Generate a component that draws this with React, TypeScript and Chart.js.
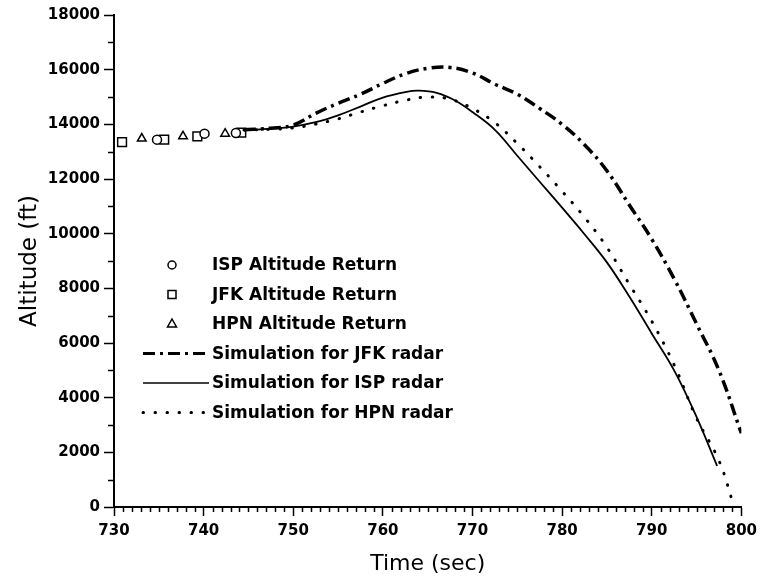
import React, { useEffect, useRef } from 'react';
import { Chart, registerables } from 'chart.js';

Chart.register(...registerables);

// ---- Data ----
const ispReturnTime = [734.8, 740.1, 743.6];
const ispReturnAlt = [13440, 13660, 13680];

const jfkReturnTime = [730.9, 735.6, 739.3, 744.2];
const jfkReturnAlt = [13350, 13440, 13560, 13700];

const hpnReturnTime = [733.1, 737.7, 742.4];
const hpnReturnAlt = [13480, 13560, 13660];

const jfkSimTime = [744.5, 747.5, 750, 752.5, 755, 757.5, 760, 762.5, 765, 767.5, 770, 772.5, 775, 777.5, 780, 782.5, 785, 787.5, 790, 792.5, 795, 797.5, 800];
const jfkSimAlt = [13800, 13860, 13970, 14400, 14770, 15100, 15500, 15850, 16050, 16080, 15880, 15470, 15100, 14580, 14000, 13250, 12300, 11050, 9800, 8350, 6700, 5000, 2700];

const ispSimTime = [744.5, 747.5, 750, 752.5, 755, 757.5, 760, 762.5, 764, 766, 768, 770, 772.5, 775, 777.5, 780, 782.5, 785, 787.5, 790, 792.5, 795, 797.3];
const ispSimAlt = [13780, 13840, 13920, 14080, 14330, 14650, 14980, 15180, 15230, 15150, 14880, 14450, 13800, 12850, 11900, 10950, 9980, 8950, 7700, 6350, 5000, 3300, 1500];

const hpnSimTime = [744.5, 747.5, 750, 752.5, 755, 757.5, 760, 762.5, 765, 767.5, 770, 772.5, 775, 777.5, 780, 782.5, 785, 787.5, 790, 792.5, 795, 797.5, 799.2];
const hpnSimAlt = [13790, 13820, 13870, 14010, 14200, 14450, 14680, 14880, 15000, 14920, 14580, 14060, 13300, 12450, 11550, 10600, 9500, 8150, 6800, 5200, 3250, 1700, 0];

const legendLabels = [
  'ISP Altitude Return',
  'JFK Altitude Return',
  'HPN Altitude Return',
  'Simulation for JFK radar',
  'Simulation for ISP radar',
  'Simulation for HPN radar',
];

const xMin = 730;
const xMax = 800;
const xStep = 10;
const yMin = 0;
const yMax = 18000;
const yStep = 2000;

const FONT = "'DejaVu Sans', sans-serif";
const DASH_DOT = [12, 5, 3, 5];
const DOTS = [0.5, 11.5];

const pts = (xs: number[], ys: number[]) => xs.map((x, i) => ({ x, y: ys[i] }));

function drawMarker(ctx: CanvasRenderingContext2D, kind: string, x: number, y: number) {
  ctx.save();
  ctx.lineWidth = 1.5;
  ctx.strokeStyle = '#000';
  ctx.fillStyle = '#fff';
  ctx.setLineDash([]);
  ctx.beginPath();
  if (kind === 'circle') {
    ctx.arc(x, y, 4, 0, Math.PI * 2);
  } else if (kind === 'rect') {
    ctx.rect(x - 4, y - 4, 8, 8);
  } else {
    ctx.moveTo(x, y - 5);
    ctx.lineTo(x + 4.5, y + 3);
    ctx.lineTo(x - 4.5, y + 3);
    ctx.closePath();
  }
  ctx.fill();
  ctx.stroke();
  ctx.restore();
}

export default function App() {
  const ref = useRef<HTMLCanvasElement>(null);

  useEffect(() => {
    if (!ref.current) return;

    const minorTicks = {
      id: 'minorTicks',
      afterDraw(chart: any) {
        const { ctx, chartArea, scales } = chart;
        const xs = scales.x;
        const ys = scales.y;
        ctx.save();
        ctx.strokeStyle = '#000';
        ctx.lineWidth = 1.5;
        ctx.beginPath();
        for (let v = xMin + 1; v < xMax; v++) {
          if ((v - xMin) % xStep === 0) continue;
          const px = Math.round(xs.getPixelForValue(v)) + 0.5;
          ctx.moveTo(px, chartArea.bottom);
          ctx.lineTo(px, chartArea.bottom + 5);
        }
        for (let v = yMin + yStep / 2; v < yMax; v += yStep) {
          const py = Math.round(ys.getPixelForValue(v)) + 0.5;
          ctx.moveTo(chartArea.left - 6, py);
          ctx.lineTo(chartArea.left, py);
        }
        ctx.stroke();
        ctx.restore();
      },
    };

    const legendPlugin = {
      id: 'insideLegend',
      afterDraw(chart: any) {
        const { ctx, chartArea } = chart;
        const x0 = chartArea.left + 29;
        const y0 = chartArea.top + 250;
        const rowH = 29.5;
        const kinds = ['circle', 'rect', 'triangle', 'dashdot', 'solid', 'dots'];
        ctx.save();
        ctx.font = `bold 17px ${FONT}`;
        ctx.fillStyle = '#000';
        ctx.textBaseline = 'middle';
        ctx.textAlign = 'left';
        legendLabels.forEach((label, i) => {
          const y = y0 + i * rowH;
          const kind = kinds[i];
          if (kind === 'circle' || kind === 'rect' || kind === 'triangle') {
            drawMarker(ctx, kind, x0 + 29, y);
          } else {
            ctx.save();
            ctx.strokeStyle = '#000';
            ctx.beginPath();
            if (kind === 'dashdot') {
              ctx.lineWidth = 3;
              ctx.setLineDash(DASH_DOT);
            } else if (kind === 'solid') {
              ctx.lineWidth = 1.5;
              ctx.setLineDash([]);
            } else {
              ctx.lineWidth = 3;
              ctx.lineCap = 'round';
              ctx.setLineDash(DOTS);
            }
            ctx.moveTo(x0, y);
            ctx.lineTo(x0 + 66, y);
            ctx.stroke();
            ctx.restore();
          }
          ctx.fillText(label, x0 + 69, y + 1);
        });
        ctx.restore();
      },
    };

    const lineCommon = {
      showLine: true,
      pointRadius: 0,
      borderColor: '#000',
      backgroundColor: '#000',
      fill: false,
      tension: 0.4,
    };

    const markerCommon = {
      showLine: false,
      borderColor: '#000',
      backgroundColor: '#fff',
      borderWidth: 1.5,
    };

    const chart = new Chart(ref.current, {
      type: 'scatter',
      data: {
        datasets: [
          { ...lineCommon, label: legendLabels[3], data: pts(jfkSimTime, jfkSimAlt), borderWidth: 3.5, borderDash: DASH_DOT },
          { ...lineCommon, label: legendLabels[4], data: pts(ispSimTime, ispSimAlt), borderWidth: 1.8 },
          { ...lineCommon, label: legendLabels[5], data: pts(hpnSimTime, hpnSimAlt), borderWidth: 3, borderDash: DOTS, borderCapStyle: 'round' },
          { ...markerCommon, label: legendLabels[0], data: pts(ispReturnTime, ispReturnAlt), pointStyle: 'circle', pointRadius: 4.5 },
          { ...markerCommon, label: legendLabels[1], data: pts(jfkReturnTime, jfkReturnAlt), pointStyle: 'rect', pointRadius: 6.2 },
          { ...markerCommon, label: legendLabels[2], data: pts(hpnReturnTime, hpnReturnAlt), pointStyle: 'triangle', pointRadius: 5 },
        ] as any,
      },
      options: {
        animation: false,
        responsive: false,
        devicePixelRatio: 1,
        layout: { padding: { top: 15, right: 20, left: 0, bottom: 0 } },
        plugins: {
          legend: { display: false },
          tooltip: { enabled: false },
        },
        scales: {
          x: {
            type: 'linear',
            min: xMin,
            max: xMax,
            ticks: {
              stepSize: xStep,
              color: '#000',
              font: { family: FONT, size: 15, weight: 'bold' },
              padding: 6,
              maxRotation: 0,
              autoSkip: false,
              callback: (v: any) => String(v),
            },
            grid: { drawOnChartArea: false, color: '#000', tickLength: 9, tickWidth: 1.5 },
            border: { color: '#000', width: 2 },
            title: {
              display: true,
              text: 'Time (sec)',
              color: '#000',
              font: { family: FONT, size: 22, lineHeight: 1 },
              padding: { top: 0, bottom: 7 },
            },
            afterFit: (s: any) => { s.height = 75; },
          },
          y: {
            type: 'linear',
            min: yMin,
            max: yMax,
            ticks: {
              stepSize: yStep,
              color: '#000',
              font: { family: FONT, size: 15, weight: 'bold' },
              padding: 4,
              callback: (v: any) => String(v),
            },
            grid: { drawOnChartArea: false, color: '#000', tickLength: 10, tickWidth: 1.5 },
            border: { color: '#000', width: 2 },
            title: {
              display: true,
              text: 'Altitude (ft)',
              color: '#000',
              font: { family: FONT, size: 23, lineHeight: 1 },
              padding: { top: 19, bottom: 0 },
            },
            afterFit: (s: any) => { s.width = 114; },
          },
        },
      } as any,
      plugins: [minorTicks, legendPlugin],
    });

    return () => chart.destroy();
  }, []);

  return (
    <div style={{ position: 'absolute', left: 0, top: 0, width: 763, height: 582, background: '#fff' }}>
      <canvas ref={ref} width={763} height={582} style={{ display: 'block' }} />
    </div>
  );
}
